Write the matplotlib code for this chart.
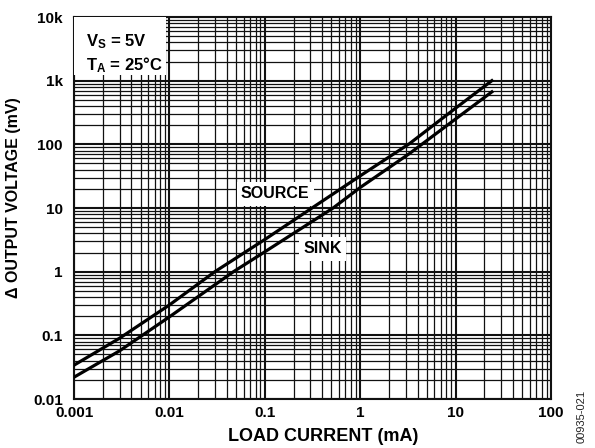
import matplotlib
matplotlib.use("Agg")
import matplotlib.pyplot as plt
from matplotlib.patches import Rectangle
from matplotlib.ticker import LogLocator, FixedLocator, NullFormatter

plt.rcParams['font.family'] = ['Liberation Sans', 'DejaVu Sans']
plt.rcParams['font.weight'] = 'bold'
plt.rcParams['mathtext.fontset'] = 'custom'
plt.rcParams['mathtext.rm'] = 'Liberation Sans:bold'
plt.rcParams['mathtext.bf'] = 'Liberation Sans:bold'
plt.rcParams['mathtext.it'] = 'Liberation Sans:bold'

# load current (mA) vs change in output voltage (mV)
source_x = [0.001, 0.003, 0.01, 0.03, 0.1, 1, 3.3, 10, 24]
source_y = [0.034, 0.09, 0.30, 1.0, 3.2, 32, 103, 370, 1000]
sink_x = [0.001, 0.003, 0.01, 0.047, 0.1, 0.52, 1, 3.3, 10, 24]
sink_y = [0.022, 0.057, 0.195, 1.0, 2.05, 10, 21, 72, 250, 667]

x_ticks = [0.001, 0.01, 0.1, 1, 10, 100]
x_labels = ['0.001', '0.01', '0.1', '1', '10', '100']
y_ticks = [0.01, 0.1, 1, 10, 100, 1000, 10000]
y_labels = ['0.01', '0.1', '1', '10', '100', '1k', '10k']

fig = plt.figure(figsize=(5.95, 4.48), dpi=100)
ax = fig.add_axes([74 / 595, 49 / 448, 477 / 595, 382 / 448])

ax.set_xscale('log')
ax.set_yscale('log')
ax.set_xlim(0.001, 100)
ax.set_ylim(0.01, 10000)

ax.xaxis.set_major_locator(FixedLocator(x_ticks))
ax.yaxis.set_major_locator(FixedLocator(y_ticks))
ax.xaxis.set_minor_locator(LogLocator(base=10, subs=range(2, 10), numticks=20))
ax.yaxis.set_minor_locator(LogLocator(base=10, subs=range(2, 10), numticks=20))
ax.xaxis.set_minor_formatter(NullFormatter())
ax.yaxis.set_minor_formatter(NullFormatter())
ax.set_xticklabels(x_labels, fontsize=11, fontweight='bold')
ax.set_yticklabels(y_labels, fontsize=11, fontweight='bold')
ax.tick_params(which='both', length=0)
ax.tick_params(axis='x', pad=5)
ax.tick_params(axis='y', pad=8)

ax.grid(which='major', color='#111111', linewidth=1.5)
ax.grid(which='minor', color='#111111', linewidth=0.9)
ax.set_axisbelow(True)
for s in ax.spines.values():
    s.set_linewidth(1.5)
    s.set_color('#111111')

ax.plot(source_x, source_y, color='black', linewidth=2.3, zorder=6)
ax.plot(sink_x, sink_y, color='black', linewidth=2.3, zorder=6)

# conditions box
ax.add_patch(Rectangle((0, 0.848), 0.193, 0.152, transform=ax.transAxes,
                       facecolor='white', edgecolor='none', zorder=4))
ax.text(0.026, 0.935, r'V$_\mathrm{S}$ = 5V', transform=ax.transAxes,
        fontsize=12, fontweight='bold', va='center', ha='left', zorder=5)
ax.text(0.026, 0.873, r'T$_\mathrm{A}$ = 25°C', transform=ax.transAxes,
        fontsize=12, fontweight='bold', va='center', ha='left', zorder=5)

box = dict(facecolor='white', edgecolor='none', pad=3)
ax.text(0.422, 0.537, 'SOURCE', transform=ax.transAxes, fontsize=11.5,
        fontweight='bold', ha='center', va='center', bbox=box, zorder=5)
ax.text(0.521, 0.393, 'SINK', transform=ax.transAxes, fontsize=11.5,
        fontweight='bold', ha='center', va='center', bbox=box, zorder=5)

ax.set_xlabel('LOAD CURRENT (mA)', fontsize=13, fontweight='bold')
ax.set_ylabel('Δ OUTPUT VOLTAGE (mV)', fontsize=11.5, fontweight='bold')
ax.xaxis.set_label_coords(0.522, -0.075)
ax.yaxis.set_label_coords(-0.112, 0.527)

fig.text(0.977, 0.07, '00935-021', rotation=90, fontsize=8, fontweight='normal',
         ha='center', va='center', color='#222222')

fig.savefig('out.png', dpi=100)
